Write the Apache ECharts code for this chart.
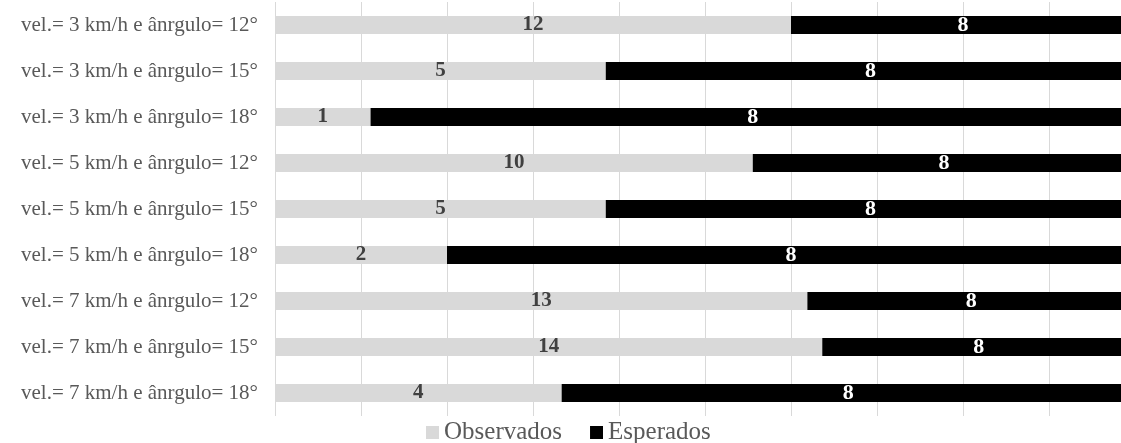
<!DOCTYPE html>
<html>
<head>
<meta charset="utf-8">
<script src="https://cdn.jsdelivr.net/npm/echarts@6/dist/echarts.min.js"></script>
<style>
  html, body { margin: 0; padding: 0; background: #fff; }
  #chart { width: 1121px; height: 443px; }
</style>
</head>
<body>
<div id="chart"></div>
<script>
// Condition labels (top to bottom)
const categories = [
  'vel.= 3 km/h e ânrgulo= 12°',
  'vel.= 3 km/h e ânrgulo= 15°',
  'vel.= 3 km/h e ânrgulo= 18°',
  'vel.= 5 km/h e ânrgulo= 12°',
  'vel.= 5 km/h e ânrgulo= 15°',
  'vel.= 5 km/h e ânrgulo= 18°',
  'vel.= 7 km/h e ânrgulo= 12°',
  'vel.= 7 km/h e ânrgulo= 15°',
  'vel.= 7 km/h e ânrgulo= 18°'
];
const observados = [12, 5, 1, 10, 5, 2, 13, 14, 4];
const esperados = [8, 8, 8, 8, 8, 8, 8, 8, 8];

// 100% stacked: each bar shows its share of the row total, label keeps the count
const totals = observados.map((v, i) => v + esperados[i]);
const share = (arr) => arr.map((v, i) => ({ value: v / totals[i] * 100, raw: v }));

const serif = '"Liberation Serif", "Times New Roman", serif';

const chart = echarts.init(document.getElementById('chart'), null, { renderer: 'canvas' });
chart.setOption({
  animation: false,
  // the plot runs on past the right edge of the page, so its 100% line sits off-canvas
  grid: { left: 275, width: 860, top: 2, height: 414, outerBoundsMode: 'none' },
  legend: {
    top: 415,
    left: 421,
    itemWidth: 13,
    itemHeight: 13,
    itemGap: 28,
    icon: 'rect',
    textStyle: { fontFamily: serif, fontSize: 25, color: '#595959' },
    data: ['Observados', 'Esperados']
  },
  xAxis: {
    type: 'value',
    min: 0,
    max: 100,
    interval: 10,
    axisLabel: { show: false },
    axisLine: { show: false },
    axisTick: { show: false },
    splitLine: { show: true, lineStyle: { color: '#d9d9d9', width: 1 } }
  },
  yAxis: {
    type: 'category',
    inverse: true,
    data: categories,
    axisLine: { show: false },
    axisTick: { show: false },
    axisLabel: { fontFamily: serif, fontSize: 21, color: '#595959', margin: 17 }
  },
  series: [
    {
      name: 'Observados',
      type: 'bar',
      stack: 'total',
      barWidth: 18,
      itemStyle: { color: '#d9d9d9' },
      label: {
        show: true,
        position: 'inside',
        formatter: (p) => p.data.raw,
        fontFamily: serif,
        fontWeight: 'bold',
        fontSize: 21,
        color: '#404040'
      },
      data: share(observados)
    },
    {
      name: 'Esperados',
      type: 'bar',
      stack: 'total',
      barWidth: 18,
      itemStyle: { color: '#000000' },
      label: {
        show: true,
        position: 'inside',
        formatter: (p) => p.data.raw,
        fontFamily: serif,
        fontWeight: 'bold',
        fontSize: 22,
        color: '#ffffff'
      },
      data: share(esperados)
    }
  ]
});
</script>
</body>
</html>
